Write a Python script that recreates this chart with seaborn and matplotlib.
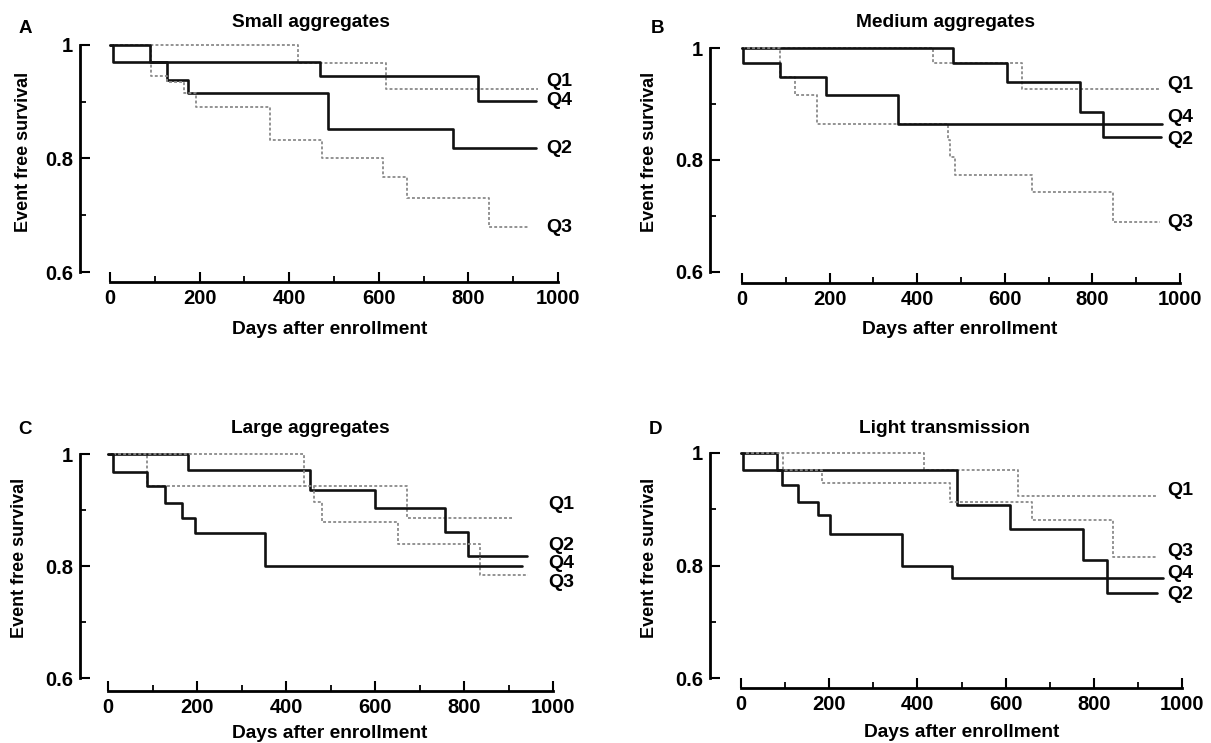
import matplotlib
matplotlib.use("Agg")
import matplotlib.pyplot as plt
import seaborn as sns
import pandas as pd
from matplotlib.ticker import MultipleLocator, FixedLocator

# ---------------- data (days, event-free survival) ----------------
panel_titles = ["Small aggregates", "Medium aggregates", "Large aggregates", "Light transmission"]
panel_letters = ["A", "B", "C", "D"]
quartiles = ["Q1", "Q2", "Q3", "Q4"]

# Panel A
a_q1_t = [0, 420, 617, 955]
a_q1_s = [1.0, 0.968, 0.922, 0.922]
a_q2_t = [0, 7, 127, 174, 487, 766, 952]
a_q2_s = [1.0, 0.970, 0.938, 0.915, 0.852, 0.818, 0.818]
a_q3_t = [0, 92, 127, 165, 192, 357, 474, 610, 662, 845, 933]
a_q3_s = [1.0, 0.946, 0.935, 0.915, 0.891, 0.833, 0.801, 0.768, 0.730, 0.679, 0.679]
a_q4_t = [0, 89, 469, 822, 952]
a_q4_s = [1.0, 0.970, 0.946, 0.901, 0.901]

# Panel B
b_q1_t = [0, 437, 640, 955]
b_q1_s = [1.0, 0.973, 0.927, 0.927]
b_q2_t = [0, 482, 606, 772, 825, 957]
b_q2_s = [1.0, 0.973, 0.940, 0.886, 0.841, 0.841]
b_q3_t = [0, 87, 122, 172, 470, 476, 487, 663, 848, 955]
b_q3_s = [1.0, 0.949, 0.916, 0.864, 0.836, 0.805, 0.773, 0.743, 0.689, 0.689]
b_q4_t = [0, 2, 87, 192, 357, 958]
b_q4_s = [1.0, 0.973, 0.949, 0.916, 0.864, 0.864]

# Panel C
c_q1_t = [0, 87, 671, 910]
c_q1_s = [1.0, 0.943, 0.886, 0.886]
c_q2_t = [0, 180, 455, 600, 757, 809, 942]
c_q2_s = [1.0, 0.971, 0.936, 0.904, 0.861, 0.817, 0.817]
c_q3_t = [0, 440, 462, 481, 652, 836, 944]
c_q3_s = [1.0, 0.943, 0.915, 0.879, 0.840, 0.784, 0.784]
c_q4_t = [0, 11, 87, 128, 166, 196, 353, 930]
c_q4_s = [1.0, 0.968, 0.943, 0.913, 0.886, 0.859, 0.800, 0.800]

# Panel D
d_q1_t = [0, 415, 628, 943]
d_q1_s = [1.0, 0.970, 0.924, 0.924]
d_q2_t = [0, 82, 489, 610, 776, 829, 943]
d_q2_s = [1.0, 0.970, 0.908, 0.865, 0.810, 0.752, 0.752]
d_q3_t = [0, 96, 184, 475, 660, 844, 943]
d_q3_s = [1.0, 0.970, 0.947, 0.913, 0.881, 0.816, 0.816]
d_q4_t = [0, 5, 94, 130, 175, 202, 365, 478, 958]
d_q4_s = [1.0, 0.970, 0.943, 0.913, 0.889, 0.856, 0.800, 0.778, 0.778]

# label y positions per panel, order Q1..Q4
a_label_y = [0.935, 0.818, 0.678, 0.902]
b_label_y = [0.934, 0.836, 0.6875, 0.876]
c_label_y = [0.909, 0.837, 0.771, 0.804]
d_label_y = [0.933, 0.749, 0.825, 0.785]

panels = [
    dict(series=[(a_q1_t, a_q1_s), (a_q2_t, a_q2_s), (a_q3_t, a_q3_s), (a_q4_t, a_q4_s)], labels=a_label_y),
    dict(series=[(b_q1_t, b_q1_s), (b_q2_t, b_q2_s), (b_q3_t, b_q3_s), (b_q4_t, b_q4_s)], labels=b_label_y),
    dict(series=[(c_q1_t, c_q1_s), (c_q2_t, c_q2_s), (c_q3_t, c_q3_s), (c_q4_t, c_q4_s)], labels=c_label_y),
    dict(series=[(d_q1_t, d_q1_s), (d_q2_t, d_q2_s), (d_q3_t, d_q3_s), (d_q4_t, d_q4_s)], labels=d_label_y),
]

# ---------------- style ----------------
sns.set_style("ticks")
plt.rcParams["font.family"] = ["Liberation Sans", "DejaVu Sans"]
plt.rcParams["font.weight"] = "bold"
plt.rcParams["text.color"] = "black"
plt.rcParams["axes.labelcolor"] = "black"
plt.rcParams["xtick.color"] = "black"
plt.rcParams["ytick.color"] = "black"

W, H = 1211, 743
fig = plt.figure(figsize=(W / 100, H / 100), dpi=100)
PX = 72 / 100  # px -> pt

layouts = [
    dict(l=110, r=558, t=45, b=272, sx=80, sy=282, lx=973, title_x=311, title_y=27, let=(25, 33),
         yl=(24, 152), xl=(330, 334)),
    dict(l=742, r=1180, t=48, b=272, sx=710, sy=283, lx=970, title_x=945, title_y=27, let=(657, 33),
         yl=(650, 152), xl=(960, 334)),
    dict(l=108, r=553, t=454, b=678, sx=80, sy=691, lx=989, title_x=310, title_y=433, let=(25, 434),
         yl=(20, 558), xl=(330, 738)),
    dict(l=741, r=1182, t=453, b=678, sx=710, sy=688, lx=966, title_x=944, title_y=433, let=(655, 434),
         yl=(650, 558), xl=(962, 737)),
]

dark = "#111111"
gray = "#8a8a8a"
styles = {
    "Q1": dict(color=gray, lw=1.3, ls=(0, (1.6, 1.2))),
    "Q2": dict(color=dark, lw=1.9, ls="-"),
    "Q3": dict(color=gray, lw=1.3, ls=(0, (1.6, 1.2))),
    "Q4": dict(color=dark, lw=1.9, ls="-"),
}

for i, (p, L) in enumerate(zip(panels, layouts)):
    ax = fig.add_axes([L["l"] / W, 1 - L["b"] / H, (L["r"] - L["l"]) / W, (L["b"] - L["t"]) / H])
    for q, (t, s) in zip(quartiles, p["series"]):
        df = pd.DataFrame({"day": t, "surv": s})
        st = styles[q]
        sns.lineplot(data=df, x="day", y="surv", ax=ax, drawstyle="steps-post", estimator=None,
                     sort=False, legend=False, color=st["color"], linewidth=st["lw"],
                     linestyle=st["ls"], clip_on=False)
    for q, ly in zip(quartiles, p["labels"]):
        ax.text(L["lx"], ly, q, ha="left", va="center", fontsize=14, fontweight="bold", clip_on=False)

    ax.set_xlim(0, 1000)
    ax.set_ylim(0.6, 1.0)
    ax.spines["right"].set_visible(False)
    ax.spines["top"].set_visible(False)
    ax.spines["left"].set_position(("outward", (L["l"] - L["sx"]) * PX))
    ax.spines["bottom"].set_position(("outward", (L["sy"] - L["b"]) * PX))
    ax.spines["left"].set_bounds(0.6, 1.0)
    ax.spines["bottom"].set_bounds(0, 1000)
    for sp in ("left", "bottom"):
        ax.spines[sp].set_linewidth(2.0)
        ax.spines[sp].set_color("black")
    ax.xaxis.set_major_locator(FixedLocator([0, 200, 400, 600, 800, 1000]))
    ax.xaxis.set_minor_locator(MultipleLocator(100))
    ax.yaxis.set_major_locator(FixedLocator([0.6, 0.8, 1.0]))
    ax.yaxis.set_minor_locator(MultipleLocator(0.1))
    ax.set_xticklabels(["0", "200", "400", "600", "800", "1000"])
    ax.set_yticklabels(["0.6", "0.8", "1"])
    ax.tick_params(which="major", direction="in", length=7, width=1.5, labelsize=14.5, pad=5, colors="black")
    ax.tick_params(which="minor", direction="in", length=4.5, width=1.3, colors="black")
    for lab in ax.get_xticklabels() + ax.get_yticklabels():
        lab.set_fontweight("bold")
    ax.set_xlabel("")
    ax.set_ylabel("")
    ax.set_facecolor("white")

    fig.text(L["title_x"] / W, 1 - L["title_y"] / H, panel_titles[i], ha="center", va="baseline",
             fontsize=13.8, fontweight="bold")
    fig.text(L["let"][0] / W, 1 - L["let"][1] / H, panel_letters[i], ha="center", va="baseline",
             fontsize=13.5, fontweight="bold")
    fig.text(L["yl"][0] / W, 1 - L["yl"][1] / H, "Event free survival", ha="center", va="center",
             rotation=90, fontsize=13, fontweight="bold")
    fig.text(L["xl"][0] / W, 1 - L["xl"][1] / H, "Days after enrollment", ha="center", va="baseline",
             fontsize=13.8, fontweight="bold")

fig.savefig("out.png", dpi=100, facecolor="white")
